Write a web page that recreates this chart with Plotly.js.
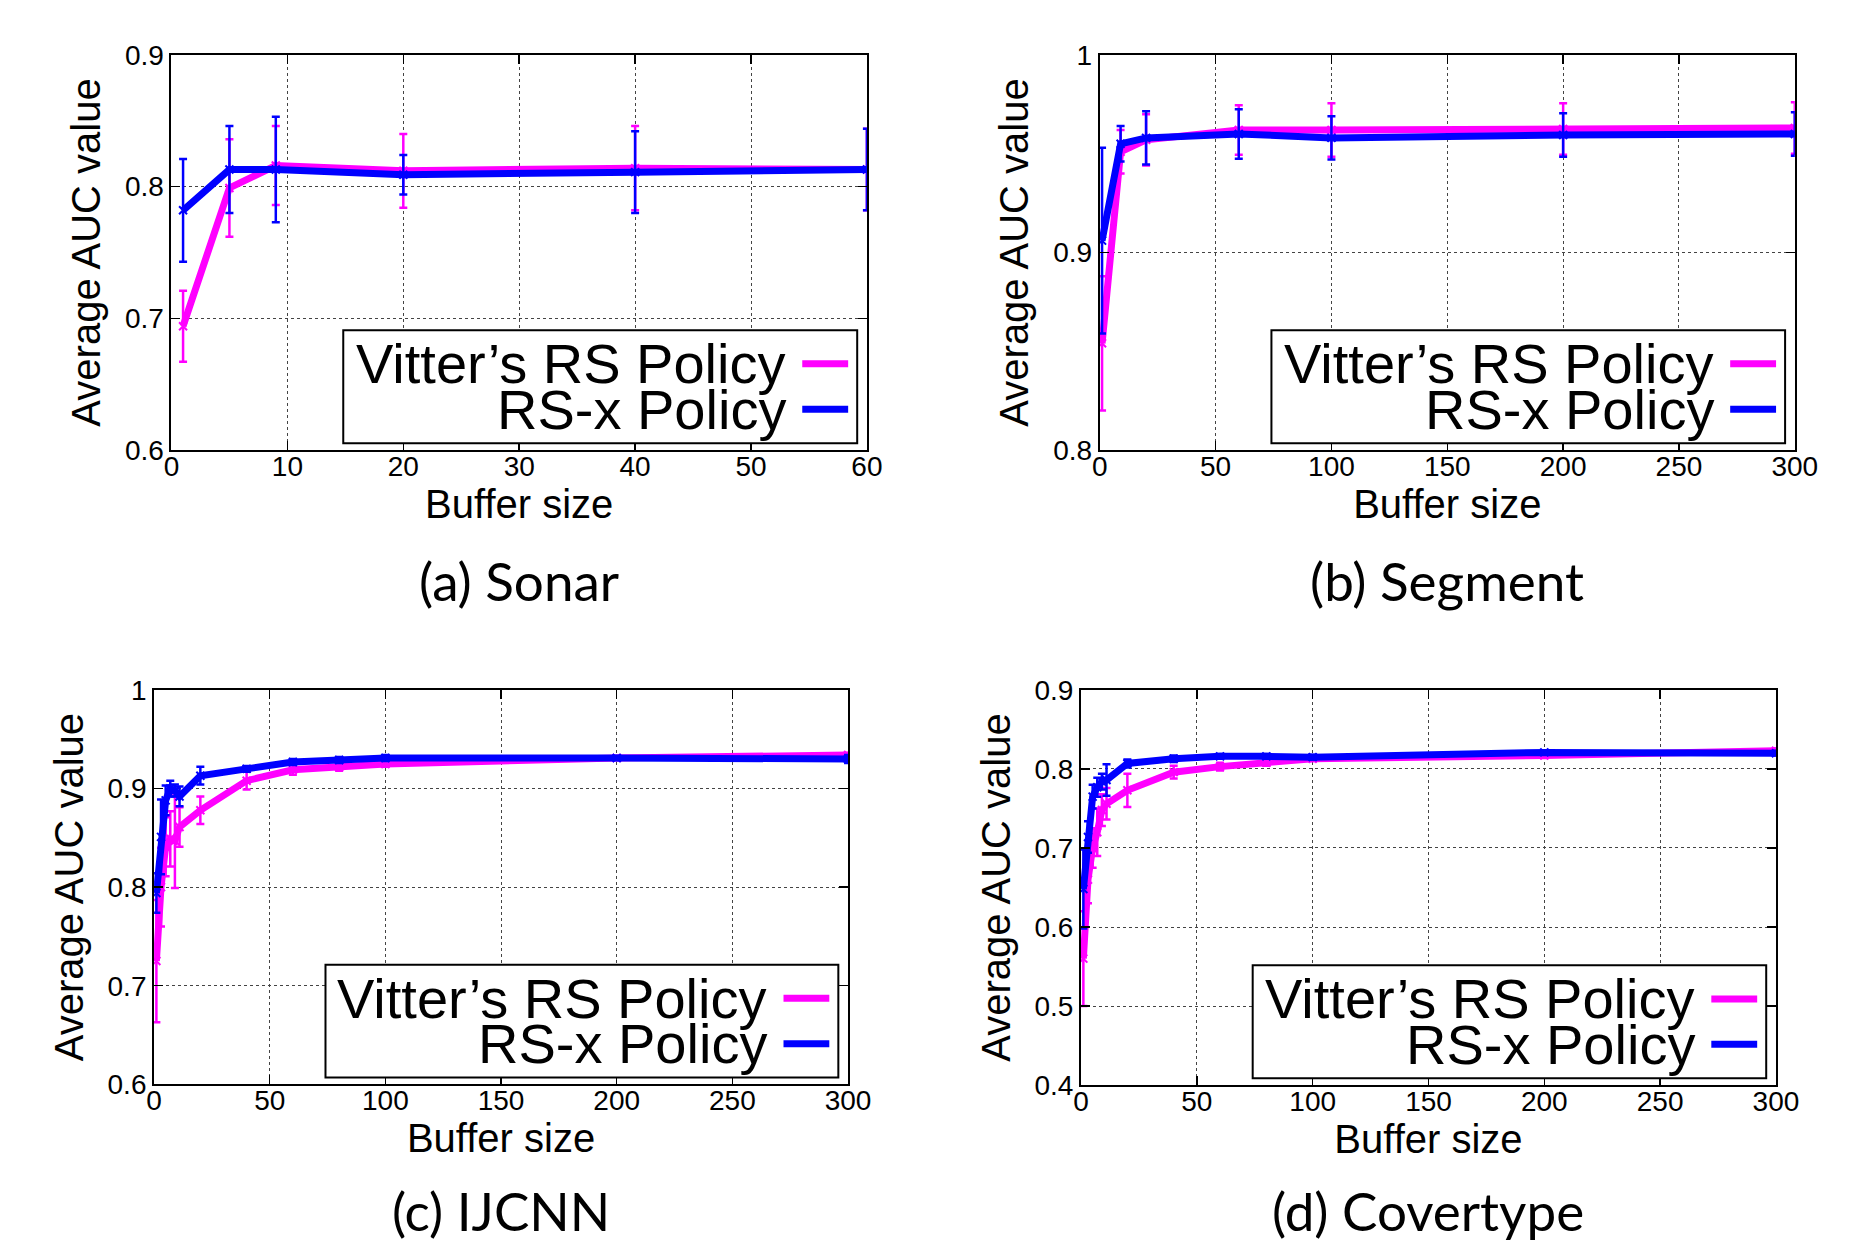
<!DOCTYPE html>
<html>
<head>
<meta charset="utf-8">
<script src="https://cdn.plot.ly/plotly-3.0.1.min.js"></script>
<style>html,body{margin:0;padding:0;background:#fff;}#chart{width:1870px;height:1243px;}</style>
</head>
<body>
<div id="chart"></div>
<script>
// ---- Data ----
var seriesNames = ["Vitter\u2019s RS Policy", "RS-x Policy"];
var captions = ["(a) Sonar", "(b) Segment", "(c) IJCNN", "(d) Covertype"];
var xTitle = "Buffer size";
var yTitle = "Average AUC value";

// (a) Sonar
var xa = [1, 5, 9, 20, 40, 60];
var a_vitter = [0.694, 0.799, 0.816, 0.812, 0.814, 0.813];
var a_vitter_err = [0.027, 0.037, 0.030, 0.028, 0.032, 0.031];
var a_rsx = [0.782, 0.813, 0.813, 0.809, 0.811, 0.813];
var a_rsx_err = [0.039, 0.033, 0.040, 0.015, 0.031, 0.031];

// (b) Segment
var xb = [1, 9, 20, 60, 100, 200, 300];
var b_vitter = [0.854, 0.951, 0.957, 0.962, 0.962, 0.9625, 0.963];
var b_vitter_err = [0.034, 0.011, 0.013, 0.0125, 0.0135, 0.013, 0.013];
var b_rsx = [0.906, 0.955, 0.958, 0.960, 0.958, 0.9595, 0.960];
var b_rsx_err = [0.047, 0.009, 0.0135, 0.0125, 0.011, 0.011, 0.011];

// (c) IJCNN
var xc = [1, 3, 5, 7, 9, 11, 20, 40, 60, 80, 100, 200, 300];
var c_vitter = [0.725, 0.800, 0.841, 0.849, 0.847, 0.861, 0.878, 0.908, 0.919, 0.922, 0.925, 0.931, 0.934];
var c_vitter_err = [0.062, 0.040, 0.030, 0.028, 0.048, 0.020, 0.014, 0.009, 0.005, 0.004, 0.003, 0.002, 0.002];
var c_rsx = [0.794, 0.851, 0.888, 0.900, 0.898, 0.892, 0.913, 0.920, 0.927, 0.929, 0.931, 0.931, 0.930];
var c_rsx_err = [0.020, 0.038, 0.015, 0.008, 0.006, 0.010, 0.009, 0.003, 0.003, 0.003, 0.003, 0.002, 0.004];

// (d) Covertype
var xd = [1, 3, 5, 7, 9, 11, 20, 40, 60, 80, 100, 200, 300];
var d_vitter = [0.560, 0.660, 0.700, 0.720, 0.748, 0.756, 0.773, 0.796, 0.803, 0.808, 0.813, 0.817, 0.823];
var d_vitter_err = [0.060, 0.030, 0.025, 0.030, 0.020, 0.020, 0.021, 0.008, 0.005, 0.004, 0.003, 0.003, 0.003];
var d_rsx = [0.648, 0.714, 0.765, 0.777, 0.784, 0.786, 0.807, 0.813, 0.816, 0.816, 0.815, 0.821, 0.820];
var d_rsx_err = [0.050, 0.020, 0.015, 0.012, 0.010, 0.020, 0.005, 0.004, 0.003, 0.003, 0.003, 0.002, 0.003];

// Axis ticks
var xTicksA = [0, 10, 20, 30, 40, 50, 60];
var xTicksB = [0, 50, 100, 150, 200, 250, 300];
var yTicksA = [0.6, 0.7, 0.8, 0.9];
var yTicksB = [0.8, 0.9, 1];
var yTicksC = [0.6, 0.7, 0.8, 0.9, 1];
var yTicksD = [0.4, 0.5, 0.6, 0.7, 0.8, 0.9];

// ---- Build ----
var colors = ["#ff00ff", "#0000ff"];
var panels = [
  {x: xa, s: [[a_vitter, a_vitter_err], [a_rsx, a_rsx_err]], xt: xTicksA, yt: yTicksA, dx: [0.0917, 0.4636], dy: [0.6380, 0.9558]},
  {x: xb, s: [[b_vitter, b_vitter_err], [b_rsx, b_rsx_err]], xt: xTicksB, yt: yTicksB, dx: [0.5881, 0.9598], dy: [0.6380, 0.9558]},
  {x: xc, s: [[c_vitter, c_vitter_err], [c_rsx, c_rsx_err]], xt: xTicksB, yt: yTicksC, dx: [0.0824, 0.4535], dy: [0.1277, 0.4449]},
  {x: xd, s: [[d_vitter, d_vitter_err], [d_rsx, d_rsx_err]], xt: xTicksB, yt: yTicksD, dx: [0.5781, 0.9497], dy: [0.1271, 0.4449]}
];

var FONT = "Liberation Sans, Arial, sans-serif";
var traces = [];
var layout = {
  width: 1870, height: 1243,
  margin: {l: 0, r: 0, t: 0, b: 0},
  paper_bgcolor: "#fff", plot_bgcolor: "#fff",
  showlegend: false,
  font: {family: FONT, color: "#000"},
  shapes: [], annotations: []
};

panels.forEach(function (p, i) {
  var n = i === 0 ? "" : String(i + 1);
  var xr = "x" + n, yr = "y" + n;
  p.s.forEach(function (ser, k) {
    traces.push({
      type: "scatter", mode: "lines+markers",
      x: p.x, y: ser[0], name: seriesNames[k],
      xaxis: xr, yaxis: yr,
      line: {color: colors[k], width: 7},
      marker: {color: colors[k], symbol: "x-thin", size: 8, line: {color: colors[k], width: 2}},
      error_y: {type: "data", array: ser[1], visible: true, color: colors[k], thickness: 2.5, width: 4}
    });
  });
  var yt = p.yt;
  var common = {
    showline: true, linecolor: "#000", linewidth: 2, mirror: "ticks",
    ticks: "inside", ticklen: 9, tickwidth: 1.5, tickcolor: "#000",
    showgrid: true, gridcolor: "#444", griddash: "dot", gridwidth: 1,
    zeroline: false, tickfont: {family: FONT, size: 28, color: "#000"}
  };
  layout["xaxis" + n] = Object.assign({}, common, {
    domain: p.dx, anchor: yr, range: [p.xt[0], p.xt[p.xt.length - 1]],
    tickmode: "array", tickvals: p.xt, ticktext: p.xt.map(String),
    ticklabelstandoff: -10,
    title: {text: xTitle, font: {family: FONT, size: 40, color: "#000"}, standoff: 2}
  });
  layout["yaxis" + n] = Object.assign({}, common, {
    domain: p.dy, anchor: xr, range: [yt[0], yt[yt.length - 1]],
    tickmode: "array", tickvals: yt, ticktext: yt.map(String),
    title: {text: yTitle, font: {family: FONT, size: 40, color: "#000"}, standoff: 12}
  });
  // legend box (gnuplot style: text on the left, sample on the right)
  var xd_ = xr + " domain", yd_ = yr + " domain";
  layout.shapes.push({type: "rect", xref: xd_, yref: yd_, x0: 0.247, x1: 0.986, y0: 0.017, y1: 0.303,
    line: {color: "#000", width: 2}, fillcolor: "#fff", layer: "above"});
  var ly = [0.218, 0.103];
  for (var k = 0; k < 2; k++) {
    layout.shapes.push({type: "line", xref: xd_, yref: yd_, x0: 0.907, x1: 0.973, y0: ly[k], y1: ly[k],
      line: {color: colors[k], width: 7}, layer: "above"});
    layout.annotations.push({xref: xd_, yref: yd_, x: 0.886, y: ly[k], xanchor: "right", yanchor: "middle",
      text: seriesNames[k], showarrow: false, font: {family: FONT, size: 56, color: "#000"}});
  }
  // caption
  var capY = i < 2 ? 0.5326 : 0.0265;
  layout.annotations.push({xref: "paper", yref: "paper", x: (p.dx[0] + p.dx[1]) / 2, y: capY,
    xanchor: "center", yanchor: "middle", text: captions[i], showarrow: false,
    font: {family: "Lato, Open Sans, sans-serif", size: 53, color: "#000"}});
});

Plotly.newPlot("chart", traces, layout, {staticPlot: true});
</script>
</body>
</html>
